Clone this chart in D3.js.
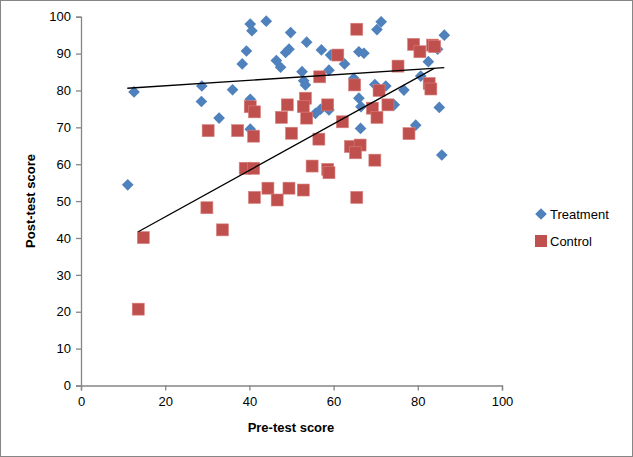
<!DOCTYPE html>
<html><head><meta charset="utf-8">
<script src="https://cdn.jsdelivr.net/npm/d3@7"></script>
<style>body{margin:0;background:#fff}svg{display:block}</style>
</head><body>
<script>
const treatment = [[11.1,54.4],[12.6,79.6],[28.7,81.2],[28.6,77.0],[32.8,72.5],[36.0,80.2],[38.3,87.2],[39.3,90.7],[40.2,98.0],[40.6,96.2],[40.2,77.6],[40.2,69.5],[44.0,98.8],[46.4,88.1],[47.4,86.3],[48.6,90.3],[49.4,91.2],[49.8,95.7],[52.5,85.1],[52.9,82.6],[53.3,81.5],[53.6,93.1],[55.7,73.8],[56.9,74.9],[57.1,91.0],[58.9,74.7],[58.9,85.5],[59.3,89.6],[62.6,87.2],[64.8,83.3],[66.0,90.5],[67.2,90.1],[66.0,77.9],[66.5,75.6],[66.4,69.7],[69.8,81.6],[70.3,96.5],[71.3,98.6],[72.4,81.2],[74.4,76.1],[76.7,80.1],[79.5,70.6],[80.7,83.9],[82.5,87.8],[84.7,91.2],[86.3,95.0],[85.1,75.4],[85.7,62.5]];
const control = [[13.6,20.7],[14.8,40.1],[29.9,48.2],[33.6,42.2],[30.2,69.1],[37.2,69.1],[41.0,67.6],[39.0,58.9],[41.0,58.9],[41.2,51.0],[44.4,53.5],[46.6,50.3],[49.4,53.5],[52.8,53.0],[50.0,68.4],[47.6,72.7],[49.0,76.1],[40.2,75.6],[41.2,74.2],[53.3,77.9],[52.8,75.6],[53.6,72.5],[54.9,59.5],[56.5,66.8],[58.6,58.6],[58.9,57.7],[58.6,76.1],[56.7,83.7],[61.0,89.6],[62.1,71.5],[64.0,64.8],[66.3,65.2],[65.2,63.1],[65.5,51.0],[69.8,61.1],[65.0,81.5],[65.5,96.6],[69.2,75.2],[70.3,72.7],[70.8,80.0],[72.9,76.1],[75.3,86.6],[77.9,68.3],[79.0,92.5],[80.5,90.5],[83.5,92.3],[84.0,91.9],[82.7,81.9],[83.1,80.4]];
// trendline endpoints [x, y]
const treatmentTrend = [[11.0,80.6],[86.3,86.2]];
const controlTrend = [[13.6,41.7],[83.9,86.0]];
const xTicks = [0,20,40,60,80,100];
const yTicks = [0,10,20,30,40,50,60,70,80,90,100];
const seriesNames = ["Treatment","Control"];

const W=633,H=457;
const svg=d3.select("body").append("svg").attr("width",W).attr("height",H);
svg.append("rect").attr("x",0.5).attr("y",0.5).attr("width",W-1).attr("height",H-1).attr("fill","#fff").attr("stroke","#868686");

const x=d3.scaleLinear().domain([0,100]).range([81,502]);
const y=d3.scaleLinear().domain([0,100]).range([385.5,16.7]);
const font="'Liberation Sans', Arial, sans-serif";
const axisColor="#868686";

const gx=svg.append("g").attr("transform",`translate(0,${y(0)})`).call(d3.axisBottom(x).tickValues(xTicks).tickSize(5).tickPadding(6));
const gy=svg.append("g").attr("transform",`translate(${x(0)},0)`).call(d3.axisLeft(y).tickValues(yTicks).tickSize(5).tickPadding(5));
[gx,gy].forEach(g=>{
  g.selectAll("path,line").attr("stroke",axisColor).attr("stroke-width",1.3);
  g.selectAll("text").attr("font-family",font).attr("font-size",13).attr("fill","#000");
});

const diamond=d3.symbol().type(d3.symbolSquare).size(68);
svg.append("g").selectAll("path").data(treatment).join("path")
  .attr("d",diamond).attr("transform",d=>`translate(${x(d[0])},${y(d[1])}) rotate(45)`)
  .attr("fill","#4F81BD");
svg.append("g").selectAll("rect").data(control).join("rect")
  .attr("x",d=>x(d[0])-6).attr("y",d=>y(d[1])-6).attr("width",12).attr("height",12)
  .attr("fill","#C0504D").attr("stroke","#D8807E").attr("stroke-width",0.6);

const line=d3.line().x(d=>x(d[0])).y(d=>y(d[1]));
[treatmentTrend,controlTrend].forEach(t=>{
  svg.append("path").attr("d",line(t)).attr("stroke","#000").attr("stroke-width",1.3).attr("fill","none");
});

svg.append("text").attr("x",291).attr("y",432).attr("text-anchor","middle")
  .attr("font-family",font).attr("font-size",13).attr("font-weight","bold").text("Pre-test score");
svg.append("text").attr("transform","translate(35,201) rotate(-90)").attr("text-anchor","middle")
  .attr("font-family",font).attr("font-size",13).attr("font-weight","bold").text("Post-test score");

const lg=svg.append("g");
lg.append("path").attr("d",diamond).attr("transform","translate(541,214) rotate(45)").attr("fill","#4F81BD");
lg.append("rect").attr("x",535).attr("y",235).attr("width",12).attr("height",12).attr("fill","#C0504D");
lg.append("text").attr("x",550).attr("y",219).attr("font-family",font).attr("font-size",13).text(seriesNames[0]);
lg.append("text").attr("x",550).attr("y",246).attr("font-family",font).attr("font-size",13).text(seriesNames[1]);
</script>
</body></html>
